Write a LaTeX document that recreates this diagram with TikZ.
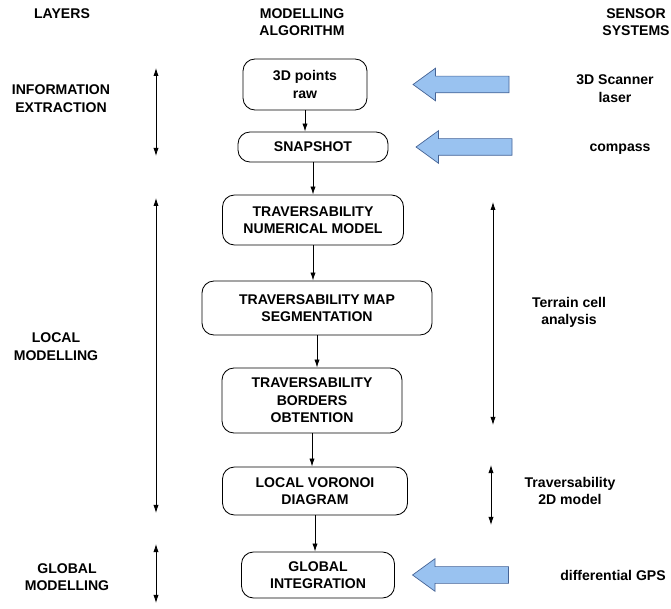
\documentclass[tikz,border=0pt]{standalone}
\usepackage{fontspec}
\setmainfont{Liberation Sans}
\usepackage{tikz}
\usetikzlibrary{arrows,arrows.meta,shapes,positioning}
\usepackage{xcolor}
\definecolor{sensorblue}{RGB}{153,194,240}
\definecolor{sensoredge}{RGB}{70,100,150}
\tikzstyle{stage} = [rectangle, rounded corners=0.3cm, text centered, align=center, draw=black, line width=0.6pt, font=\fontsize{10}{12.5}\selectfont\bfseries]
\tikzstyle{heading} = [align=center, font=\fontsize{10}{12.5}\selectfont\bfseries]
\tikzstyle{flow} = [line width=0.6pt,->,>={Latex[length=2mm,width=1.3mm]}]
\tikzstyle{layerspan} = [line width=0.6pt,<->,>={Latex[length=2mm,width=1.3mm]}]
\tikzstyle{sensorarrow} = [single arrow, shape border rotate=180, draw=sensoredge, fill=sensorblue, line width=0.5pt, minimum height=2.4cm, inner sep=0.2cm, single arrow head extend=0.2cm, single arrow tip angle=72]

\begin{document}
\begin{tikzpicture}[x=0.025cm, y=-0.025cm]
\useasboundingbox (0,0) rectangle (671,609);
% Column headings
\node[heading] (layers) at (62,14) {LAYERS};
\node[heading] (algo) at (302,22) {MODELLING\\ALGORITHM};
\node[heading] (sensors) at (636,22) {SENSOR\\SYSTEMS};

% Modelling algorithm
\node[stage, minimum width=3.1cm, minimum height=1.275cm] (raw) at (305,84.5) {3D points\\raw};
\node[stage, minimum width=3.75cm, minimum height=0.75cm] (snap) at (313,147) {SNAPSHOT};
\node[stage, minimum width=4.525cm, minimum height=1.25cm] (tnm) at (313,220) {TRAVERSABILITY\\NUMERICAL MODEL};
\node[stage, minimum width=5.75cm, minimum height=1.35cm] (tms) at (317,308) {TRAVERSABILITY MAP\\SEGMENTATION};
\node[stage, minimum width=4.5cm, minimum height=1.625cm] (tbo) at (312,400.5) {TRAVERSABILITY\\BORDERS\\OBTENTION};
\node[stage, minimum width=4.625cm, minimum height=1.2cm] (lvd) at (315,491) {LOCAL VORONOI\\DIAGRAM};
\node[stage, minimum width=3.825cm, minimum height=1.15cm] (gi) at (318,575) {GLOBAL\\INTEGRATION};

\draw[flow] (raw.south) -- (raw.south |- snap.north);
\draw[flow] (snap.south) -- (snap.south |- tnm.north);
\draw[flow] (tnm.south) -- (tnm.south |- tms.north);
\draw[flow] (tms.south) -- (tms.south |- tbo.north);
\draw[flow] (tbo.south) -- (tbo.south |- lvd.north);
\draw[flow] (lvd.south) -- (lvd.south |- gi.north);

% Layers
\node[heading] (ie) at (61,98.5) {INFORMATION\\EXTRACTION};
\node[heading] (lm) at (56,346.5) {LOCAL\\MODELLING};
\node[heading] (gm) at (67,577) {GLOBAL\\MODELLING};
\coordinate (ie top) at (156,68);
\coordinate (ie bot) at (156,156);
\coordinate (lm top) at (156,198);
\coordinate (lm bot) at (156,513);
\coordinate (gm top) at (156,544);
\coordinate (gm bot) at (156,603);
\draw[layerspan] (ie top) -- (ie bot);
\draw[layerspan] (lm top) -- (lm bot);
\draw[layerspan] (gm top) -- (gm bot);

% Sensor systems
\node[sensorarrow, right=1.125cm of raw] (laser in) {};
\node[sensorarrow, right=0.675cm of snap] (compass in) {};
\node[sensorarrow, right=0.425cm of gi] (gps in) {};
\node[heading] (laser) at (615,88.5) {3D Scanner\\laser};
\node[heading] (compass) at (620,149) {compass};
\node[heading] (gps) at (613,575) {differential GPS};

\node[heading] (terrain) at (569,312.5) {Terrain cell\\analysis};
\node[heading] (model2d) at (570,491) {Traversability\\2D model};
\coordinate (tc top) at (493,202);
\coordinate (tc bot) at (493,425);
\coordinate (td top) at (491,465);
\coordinate (td bot) at (491,525);
\draw[layerspan] (tc top) -- (tc bot);
\draw[layerspan] (td top) -- (td bot);
\end{tikzpicture}
\end{document}
